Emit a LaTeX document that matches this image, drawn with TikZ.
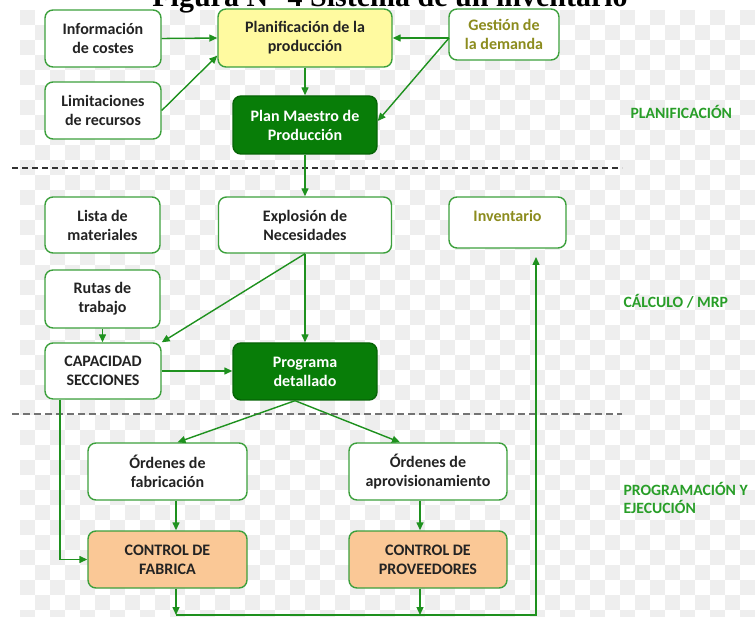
\documentclass[tikz,border=0pt]{standalone}
\usepackage{fontspec}
\setmainfont{Carlito}
\newfontfamily\titlefont{Liberation Serif}
\usetikzlibrary{arrows.meta}

\definecolor{boxline}{RGB}{60,160,60}
\definecolor{arrowgreen}{RGB}{30,145,30}
\definecolor{darkfill}{RGB}{8,125,8}
\definecolor{yellowfill}{RGB}{255,250,160}
\definecolor{peachfill}{RGB}{250,200,150}
\definecolor{olivetext}{RGB}{140,140,30}
\definecolor{labelgreen}{RGB}{40,158,40}
\definecolor{boxtext}{RGB}{35,35,35}
\definecolor{checker}{RGB}{238,238,238}

\tikzset{
  box/.style={draw=boxline, line width=1.4pt, rounded corners=8pt, fill=white,
    align=center, inner sep=0pt, text=boxtext,
    font=\bfseries\fontsize{16}{19}\selectfont},
  darkbox/.style={box, fill=darkfill, draw=darkfill!80!black, text=white},
  yellowbox/.style={box, fill=yellowfill},
  peachbox/.style={box, fill=peachfill},
  olivebox/.style={box, text=olivetext},
  arr/.style={draw=arrowgreen, line width=1.4pt, -{Triangle[length=8pt,width=7pt]}},
  phase/.style={text=labelgreen, font=\bfseries\fontsize{15.7}{18.5}\selectfont, align=left, anchor=west},
}

\begin{document}
\begin{tikzpicture}[x=1pt,y=-1pt]
\useasboundingbox (0,0) rectangle (755,617);
\clip (0,0) rectangle (755,617);
\fill[white] (0,0) rectangle (755,617);
% light checkered backdrop
\foreach \cx in {20,50,...,755} {
  \foreach \cy in {10,40,...,617} {
    \fill[checker] (\cx,\cy) rectangle ++(15,15);
    \fill[checker] (\cx+15,\cy+15) rectangle ++(15,15);
  }
}

% caption, cut at the top edge
\node[font=\titlefont\bfseries\fontsize{30}{30}\selectfont, anchor=base] (title) at (390,7) {Figura N° 4 Sistema de un inventario};

% phase separators
\draw[black!80, line width=1.3pt, dash pattern=on 6pt off 4pt] (12,168) -- (622,168);
\draw[black!55, line width=2pt, dash pattern=on 7pt off 4pt] (12,414) -- (622,414);

% planning
\node[box, minimum width=116pt, minimum height=57pt] (info) at (103,38.5) {Información\\de costes};
\node[box, minimum width=116pt, minimum height=57pt] (lim) at (103,110.5) {Limitaciones\\de recursos};
\node[yellowbox, minimum width=174pt, minimum height=58pt] (plan) at (305,38) {Planificación de la\\producción};
\node[olivebox, minimum width=110pt, minimum height=51pt] (gest) at (504,34.5) {Gestión de\\la demanda};
\node[darkbox, minimum width=144pt, minimum height=58pt] (pmp) at (305,125) {Plan Maestro de\\Producción};

% calculation / MRP
\node[box, minimum width=115pt, minimum height=56pt] (lista) at (102.5,225) {Lista de\\materiales};
\node[box, minimum width=173pt, minimum height=56pt] (expl) at (305,225) {Explosión de\\Necesidades};
\node[box, minimum width=117pt, minimum height=51pt] (inv) at (507.5,222.5) {};
\node[text=olivetext, font=\bfseries\fontsize{16}{19}\selectfont] (invtext) at (507.5,216) {Inventario};
\node[box, minimum width=115pt, minimum height=58pt] (rutas) at (102.5,299) {Rutas de\\trabajo};
\node[box, minimum width=116pt, minimum height=56pt] (cap) at (103,371) {CAPACIDAD\\SECCIONES};
\node[darkbox, minimum width=144pt, minimum height=57pt] (prog) at (305,371.5) {Programa\\detallado};

% scheduling and execution
\node[box, minimum width=159pt, minimum height=57pt] (ofab) at (167.5,471.5) {Órdenes de\\fabricación};
\node[box, minimum width=158pt, minimum height=57pt] (oapr) at (428,471.5) {Órdenes de\\aprovisionamiento};
\node[peachbox, minimum width=159pt, minimum height=57pt] (cfab) at (167.5,559.5) {CONTROL DE\\FABRICA};
\node[peachbox, minimum width=158pt, minimum height=57pt] (cprov) at (428,559.5) {CONTROL DE\\PROVEEDORES};

% phase labels
\node[phase] (lplan) at (627,112) {PLANIFICACIÓN};
\node[phase] (lcalc) at (620,301) {CÁLCULO / MRP};
\node[phase] (lprog) at (620,498) {PROGRAMACIÓN Y\\EJECUCIÓN};

% connectors
\coordinate (gw) at (449,38);
\draw[arr] (info.east) -- (plan.west);
\draw[arr] (lim.east) -- ([yshift=12pt]plan.south west);
\draw[arr] (gw) -- (plan.east);
\draw[arr] (gw) -- ([yshift=4pt]pmp.east);
\draw[arr] (plan.south) -- (pmp.north);
\draw[arr] (pmp.south) -- (expl.north);
\draw[arr] (expl.south) -- (cap.north east);
\draw[arr] (expl.south) -- (prog.north);
\draw[arr] (rutas.south) -- (rutas.south |- cap.north);
\draw[arr] (cap.east) -- (cap.east -| prog.west);
\draw[arr] ([xshift=-10pt]prog.south) -- ([xshift=10pt]ofab.north);
\draw[arr] ([xshift=-10pt]prog.south) -- ([xshift=-28pt]oapr.north);
\draw[arr] ([xshift=8.5pt]ofab.south) -- ([xshift=8.5pt]cfab.north);
\draw[arr] ([xshift=-8pt]oapr.south) -- ([xshift=-8pt]cprov.north);
\draw[arr] ([xshift=-43pt]cap.south) |- (cfab.west);

% feedback to inventory
\coordinate (bl) at (176,615);
\coordinate (bm) at (420,615);
\coordinate (br) at (536,615);
\coordinate (invin) at (536,257);
\draw[arr] ([xshift=8.5pt]cfab.south) -- (bl);
\draw[arr] ([xshift=-8pt]cprov.south) -- (bm);
\draw[arr] (bl) -- (br) -- (invin);
\end{tikzpicture}
\end{document}
